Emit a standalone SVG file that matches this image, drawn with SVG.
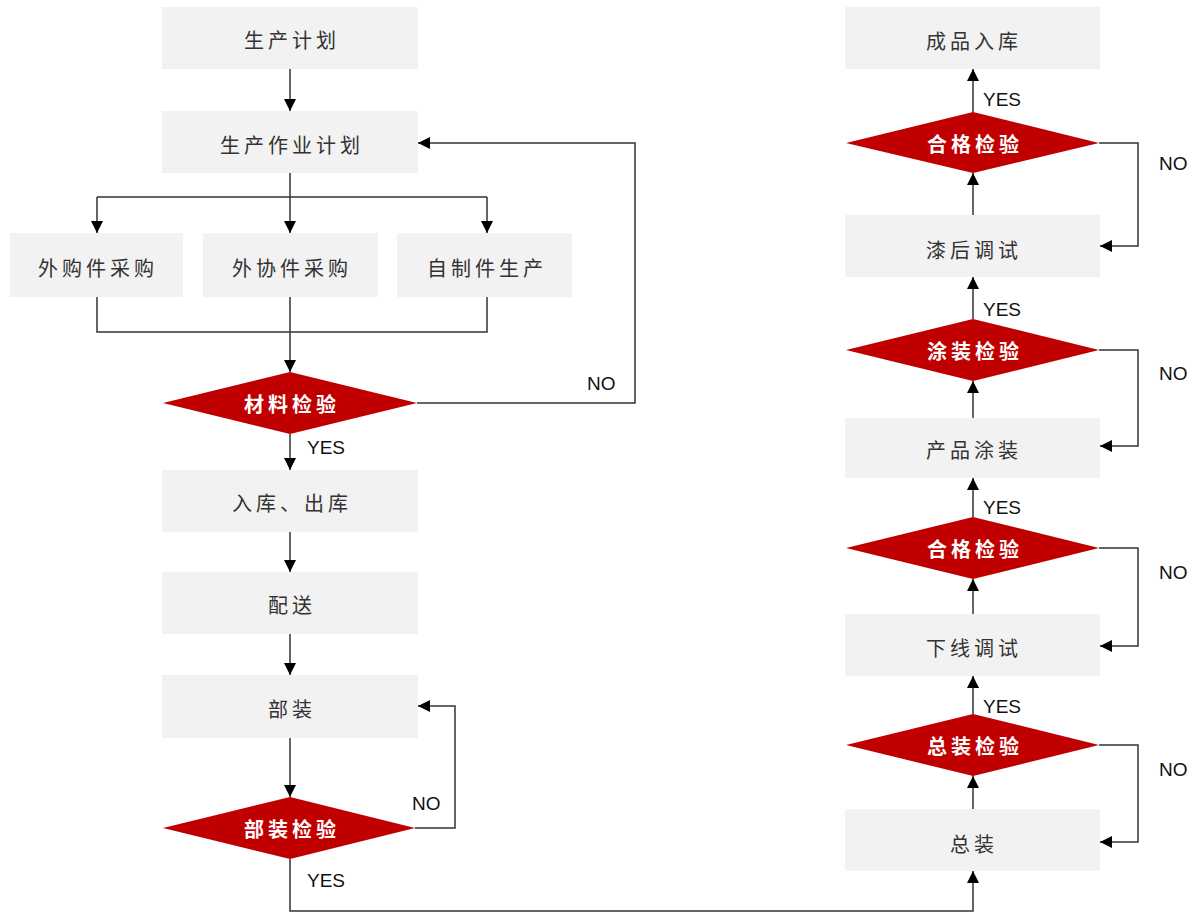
<svg xmlns="http://www.w3.org/2000/svg" width="1193" height="914" viewBox="0 0 1193 914">
<style>
.box{fill:#f2f2f2}
.dia{fill:#c00000}
.bt{font-family:"Noto Sans CJK SC",sans-serif;font-size:20px;fill:#333;text-anchor:middle;dominant-baseline:central;letter-spacing:4px}
.dt{font-family:"Noto Sans CJK SC",sans-serif;font-size:20px;font-weight:bold;fill:#fff;text-anchor:middle;dominant-baseline:central;letter-spacing:4px}
.lb{font-family:"Liberation Sans",sans-serif;font-size:19px;fill:#111;dominant-baseline:central}
.ln{fill:none;stroke:#333;stroke-width:1.5}
.ar{marker-end:url(#ah)}
</style>
<defs>
<marker id="ah" viewBox="0 0 10 10" refX="10" refY="5" markerWidth="12" markerHeight="12" markerUnits="userSpaceOnUse" orient="auto">
<path d="M0,0 L10,5 L0,10 Z" fill="#000"/>
</marker>
</defs>
<g id="connectors">
<path class="ln ar" d="M290,69 V111"/>
<path class="ln" d="M290,173 V197 M97,197 H487"/>
<path class="ln ar" d="M97,197 V233"/>
<path class="ln ar" d="M290,197 V233"/>
<path class="ln ar" d="M487,197 V233"/>
<path class="ln" d="M97,297 V332 H487 V297"/>
<path class="ln ar" d="M290,297 V372"/>
<path class="ln ar" d="M417,403 H635 V143 H418"/>
<path class="ln ar" d="M290,434 V470"/>
<path class="ln ar" d="M290,532 V572"/>
<path class="ln ar" d="M290,634 V675"/>
<path class="ln ar" d="M290,738 V797"/>
<path class="ln ar" d="M415,828 H455 V706 H418"/>
<path class="ln ar" d="M290,859 V911 H973 V871"/>
<path class="ln ar" d="M973,809 V776"/>
<path class="ln ar" d="M973,714 V676"/>
<path class="ln ar" d="M973,614 V579"/>
<path class="ln ar" d="M973,517 V478"/>
<path class="ln ar" d="M973,418 V381"/>
<path class="ln ar" d="M973,319 V277"/>
<path class="ln ar" d="M973,215 V173"/>
<path class="ln ar" d="M973,112 V69"/>
<path class="ln ar" d="M1099,143 H1138 V246 H1100"/>
<path class="ln ar" d="M1099,350 H1138 V446 H1100"/>
<path class="ln ar" d="M1099,548 H1138 V646 H1100"/>
<path class="ln ar" d="M1099,745 H1138 V842 H1100"/>
<text class="lb" x="587" y="383">NO</text>
<text class="lb" x="307" y="447">YES</text>
<text class="lb" x="412" y="803">NO</text>
<text class="lb" x="307" y="880">YES</text>
<text class="lb" x="983" y="99">YES</text>
<text class="lb" x="983" y="309">YES</text>
<text class="lb" x="983" y="507">YES</text>
<text class="lb" x="983" y="706">YES</text>
<text class="lb" x="1159" y="163">NO</text>
<text class="lb" x="1159" y="373">NO</text>
<text class="lb" x="1159" y="572">NO</text>
<text class="lb" x="1159" y="769">NO</text>
</g>
<g id="n1"><rect class="box" x="162" y="7" width="256" height="62"/><text class="bt" x="292" y="39">生产计划</text></g>
<g id="n2"><rect class="box" x="162" y="111" width="256" height="62"/><text class="bt" x="292" y="144">生产作业计划</text></g>
<g id="n3"><rect class="box" x="10" y="233" width="173" height="64"/><text class="bt" x="98" y="267">外购件采购</text></g>
<g id="n4"><rect class="box" x="203" y="233" width="175" height="64"/><text class="bt" x="292" y="267">外协件采购</text></g>
<g id="n5"><rect class="box" x="397" y="233" width="175" height="64"/><text class="bt" x="487" y="267">自制件生产</text></g>
<g id="d1"><polygon class="dia" points="163,403 290,372 417,403 290,434"/><text class="dt" x="292" y="403">材料检验</text></g>
<g id="n6"><rect class="box" x="162" y="470" width="256" height="62"/><text class="bt" x="292" y="502">入库、出库</text></g>
<g id="n7"><rect class="box" x="162" y="572" width="256" height="62"/><text class="bt" x="292" y="604">配送</text></g>
<g id="n8"><rect class="box" x="162" y="675" width="256" height="63"/><text class="bt" x="292" y="708">部装</text></g>
<g id="d2"><polygon class="dia" points="163,828 290,797 415,828 290,859"/><text class="dt" x="292" y="828">部装检验</text></g>
<g id="r1"><rect class="box" x="845" y="7" width="255" height="62"/><text class="bt" x="974" y="40">成品入库</text></g>
<g id="rd1"><polygon class="dia" points="846,143 973,112 1099,143 973,173"/><text class="dt" x="975" y="143">合格检验</text></g>
<g id="r2"><rect class="box" x="845" y="215" width="255" height="62"/><text class="bt" x="974" y="249">漆后调试</text></g>
<g id="rd2"><polygon class="dia" points="846,350 973,319 1099,350 973,381"/><text class="dt" x="975" y="350">涂装检验</text></g>
<g id="r3"><rect class="box" x="845" y="418" width="255" height="60"/><text class="bt" x="974" y="449">产品涂装</text></g>
<g id="rd3"><polygon class="dia" points="846,548 973,517 1099,548 973,579"/><text class="dt" x="975" y="548">合格检验</text></g>
<g id="r4"><rect class="box" x="845" y="614" width="255" height="62"/><text class="bt" x="974" y="647">下线调试</text></g>
<g id="rd4"><polygon class="dia" points="846,745 973,714 1099,745 973,776"/><text class="dt" x="975" y="745">总装检验</text></g>
<g id="r5"><rect class="box" x="845" y="809" width="255" height="62"/><text class="bt" x="974" y="843">总装</text></g>
</svg>
